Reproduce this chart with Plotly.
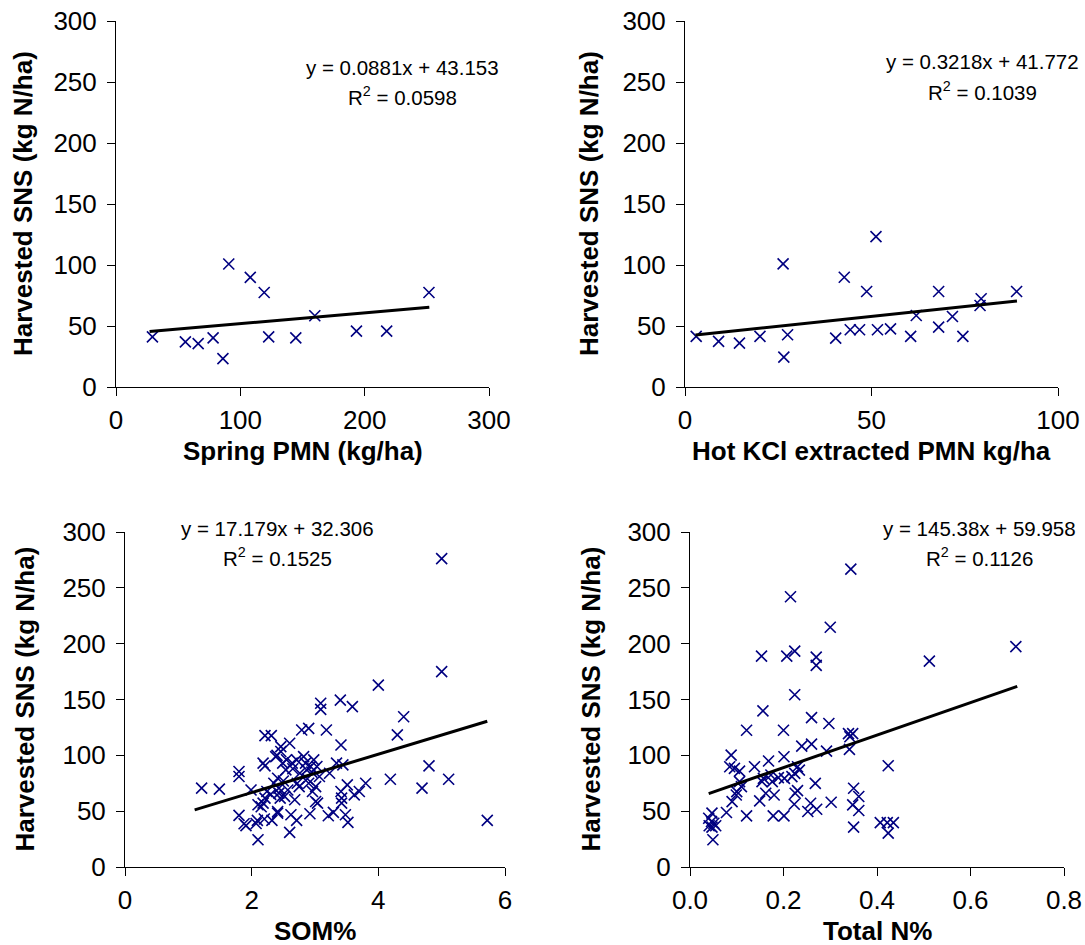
import plotly.graph_objects as go

# ---------------- data ----------------
pmn_spring_x = [29.3, 55.8, 66.1, 78.1, 86.0, 90.7, 108.0, 119.2, 122.8, 144.6, 159.9, 193.4, 217.7, 251.7]
pmn_spring_y = [41.1, 37.0, 35.6, 40.3, 23.3, 100.8, 89.9, 77.5, 41.1, 40.3, 58.4, 45.8, 45.8, 77.5]

hotkcl_x = [3.0, 9.0, 14.6, 20.1, 26.3, 26.5, 27.5, 40.4, 42.7, 44.3, 46.8, 48.7, 51.2, 51.6,
            55.1, 60.5, 62.0, 68.0, 68.0, 71.7, 74.5, 79.1, 79.4, 88.9]
hotkcl_y = [41.5, 37.4, 36.0, 41.5, 100.9, 24.5, 42.8, 40.1, 90.0, 46.9, 46.9, 78.3, 123.3, 46.9,
            47.7, 41.5, 58.6, 78.3, 49.1, 57.8, 41.5, 66.8, 72.3, 78.3]

som_x = [1.21, 1.49, 1.80, 1.80, 1.80, 1.88, 1.91, 1.99, 2.09, 2.10, 2.07, 2.10, 2.18, 2.21, 2.21,
         2.18, 2.21, 2.31, 2.24, 2.32, 2.35, 2.38, 2.41, 2.41, 2.41, 2.43, 2.43, 2.45, 2.46, 2.46,
         2.49, 2.52, 2.54, 2.57, 2.60, 2.60, 2.62, 2.64, 2.68, 2.71, 2.71, 2.72, 2.76, 2.79, 2.82,
         2.85, 2.87, 2.90, 2.90, 2.92, 2.93, 2.96, 2.98, 3.01, 3.01, 3.03, 3.04, 3.07, 3.09, 3.09,
         3.18, 3.21, 3.23, 3.29, 3.34, 3.40, 3.41, 3.41, 3.42, 3.42, 3.44, 3.48, 3.51, 3.52, 3.59,
         3.62, 3.70, 3.80, 4.00, 4.19, 4.30, 4.40, 4.69, 4.80, 5.00, 5.00, 5.11, 5.72,
         2.15, 2.30, 2.50, 2.65, 2.75, 2.88, 2.95, 2.40, 2.55, 2.20]
som_y = [70.6, 69.7, 85.5, 81.0, 46.2, 38.7, 37.0, 69.0, 41.7, 24.4, 39.0, 55.7, 57.2, 61.7, 90.6,
         93.0, 117.7, 117.7, 67.6, 41.7, 75.0, 98.9, 79.5, 48.3, 49.7, 66.1, 70.6, 61.7, 103.4, 107.8,
         93.0, 63.2, 87.0, 69.0, 110.8, 31.0, 46.8, 93.0, 60.2, 41.7, 95.9, 75.0, 84.0, 122.7, 98.9,
         93.0, 87.0, 75.0, 124.2, 47.7, 90.0, 67.6, 95.9, 72.0, 58.7, 90.0, 57.2, 81.0, 146.6, 141.2,
         122.7, 45.9, 84.0, 48.9, 93.0, 149.5, 109.3, 67.6, 57.2, 61.7, 91.5, 46.8, 73.6, 39.9, 143.6,
         64.6, 67.6, 75.0, 162.9, 78.6, 118.3, 134.6, 70.6, 90.6, 276.1, 174.9, 78.6, 41.7,
         54.0, 65.0, 77.0, 88.0, 72.0, 79.0, 85.0, 100.0, 96.0, 43.0]

totn_x = [0.344, 0.215, 0.300, 0.697, 0.224, 0.153, 0.207, 0.270, 0.270, 0.512, 0.224, 0.156, 0.260,
          0.121, 0.200, 0.297, 0.339, 0.348, 0.342, 0.239, 0.260, 0.292, 0.341, 0.088, 0.085, 0.095,
          0.106, 0.138, 0.168, 0.201, 0.230, 0.234, 0.224, 0.218, 0.202, 0.189, 0.173, 0.157, 0.154,
          0.176, 0.106, 0.110, 0.100, 0.099, 0.090, 0.078, 0.121, 0.149, 0.162, 0.180, 0.178, 0.201,
          0.223, 0.225, 0.230, 0.268, 0.252, 0.258, 0.271, 0.302, 0.350, 0.361, 0.361, 0.348, 0.350,
          0.407, 0.422, 0.435, 0.424, 0.424, 0.047, 0.046, 0.051, 0.041, 0.047, 0.055, 0.049, 0.040]
totn_y = [266.8, 242.0, 214.7, 197.4, 193.3, 188.8, 188.8, 187.9, 180.5, 184.4, 154.3, 139.8, 133.8,
          122.5, 122.5, 128.5, 119.5, 119.5, 116.6, 108.2, 110.0, 103.8, 105.3, 100.2, 89.8, 88.3,
          85.9, 89.8, 94.9, 98.7, 89.8, 86.8, 83.9, 80.9, 79.4, 80.0, 82.4, 79.4, 76.4,
          76.4, 76.4, 72.0, 67.5, 64.5, 58.6, 48.8, 45.8, 59.2, 66.0, 64.5, 45.8, 45.8,
          56.2, 66.0, 68.4, 74.9, 49.7, 57.1, 51.7, 58.0, 70.5, 63.1, 50.6, 55.6, 35.7,
          39.8, 39.8, 39.8, 30.3, 90.7, 48.2, 40.7, 39.2, 36.9, 35.7, 36.9, 24.4, 43.7]

# trendline coefficients (slope, intercept) and x-span, as printed / drawn in the chart
trend_coef = [(0.0881, 43.153), (0.3218, 41.772), (17.179, 32.306), (145.38, 59.958)]
trend_span = [(27, 252), (2.8, 89), (1.1, 5.72), (0.04, 0.70)]
r_squared = ["0.0598", "0.1039", "0.1525", "0.1126"]
eq_labels = ["y = 0.0881x + 43.153", "y = 0.3218x + 41.772", "y = 17.179x + 32.306", "y = 145.38x + 59.958"]

x_titles = ["Spring PMN (kg/ha)", "Hot KCl extracted PMN kg/ha", "SOM%", "Total N%"]
y_title = "Harvested SNS (kg N/ha)"
x_ranges = [(0, 300), (0, 100), (0, 6), (0, 0.8)]
x_ticks = [[0, 100, 200, 300], [0, 50, 100], [0, 2, 4, 6], [0, 0.2, 0.4, 0.6, 0.8]]
x_ticktext = [["0", "100", "200", "300"], ["0", "50", "100"], ["0", "2", "4", "6"],
              ["0.0", "0.2", "0.4", "0.6", "0.8"]]
y_ticks = [0, 50, 100, 150, 200, 250, 300]

series = [(pmn_spring_x, pmn_spring_y), (hotkcl_x, hotkcl_y), (som_x, som_y), (totn_x, totn_y)]

# ---------------- layout geometry ----------------
W, H = 1085, 945
# plot areas in pixels: (left, right, top, bottom)
boxes = [(116, 489, 21, 387), (685, 1058, 21, 387), (125, 505, 532, 867), (690, 1064, 532, 867)]
eq_pos = [(402, 67), (982, 62), (277, 528), (979, 528)]   # centre x, y of first line
eq_gap = 31
ytitle_x = [23, 589, 24, 590]
xtitle_dy = 64

FONT = "Liberation Sans, Arial, sans-serif"
TICK_SIZE, TITLE_SIZE, EQ_SIZE = 26, 26, 20.5
fig = go.Figure()
layout = dict(width=W, height=H, margin=dict(l=0, r=0, t=0, b=0, autoexpand=False),
              paper_bgcolor="white", plot_bgcolor="white", showlegend=False,
              font=dict(family=FONT, color="black"))
annotations = []

for i, ((xs, ys), (a, b), (x0, x1)) in enumerate(zip(series, trend_coef, trend_span)):
    sfx = "" if i == 0 else str(i + 1)
    xa, ya = "x" + sfx, "y" + sfx
    fig.add_trace(go.Scatter(x=xs, y=ys, mode="markers", xaxis=xa, yaxis=ya,
                             marker=dict(symbol="x-thin", size=11, line=dict(width=1.6, color="#000080"),
                                         color="#000080")))
    fig.add_trace(go.Scatter(x=[x0, x1], y=[a * x0 + b, a * x1 + b], mode="lines", xaxis=xa, yaxis=ya,
                             line=dict(color="black", width=3)))
    l, r, t, btm = boxes[i]
    axis_common = dict(showline=True, linecolor="black", linewidth=1, ticks="outside", ticklen=8,
                       tickcolor="black", tickwidth=1, showgrid=False, zeroline=False, automargin=False,
                       tickfont=dict(family=FONT, size=TICK_SIZE, color="black"))
    layout["xaxis" + sfx] = dict(domain=[l / W, r / W], anchor=ya, range=list(x_ranges[i]),
                                 tickvals=x_ticks[i], ticktext=x_ticktext[i], ticklabelstandoff=2,
                                 **axis_common)
    layout["yaxis" + sfx] = dict(domain=[1 - btm / H, 1 - t / H], anchor=xa, range=[0, 300],
                                 tickvals=y_ticks, ticklabelstandoff=5, **axis_common)
    annotations.append(dict(text="<b>" + y_title + "</b>", textangle=-90, xref="paper", yref="paper",
                            x=ytitle_x[i] / W, y=1 - (t + btm) / 2 / H, showarrow=False,
                            font=dict(family=FONT, size=TITLE_SIZE, color="black"),
                            xanchor="center", yanchor="middle"))
    annotations.append(dict(text="<b>" + x_titles[i] + "</b>", xref="paper", yref="paper",
                            x=(l + r) / 2 / W, y=1 - (btm + xtitle_dy) / H, showarrow=False,
                            font=dict(family=FONT, size=TITLE_SIZE, color="black"),
                            xanchor="center", yanchor="middle"))
    ex, ey = eq_pos[i]
    annotations.append(dict(text=eq_labels[i], xref="paper", yref="paper", x=ex / W, y=1 - ey / H,
                            showarrow=False, xanchor="center", yanchor="middle",
                            font=dict(family=FONT, size=EQ_SIZE, color="black")))
    annotations.append(dict(text="R<sup>2</sup> = " + r_squared[i], xref="paper", yref="paper",
                            x=ex / W, y=1 - (ey + eq_gap - 2) / H,
                            showarrow=False, xanchor="center", yanchor="middle",
                            font=dict(family=FONT, size=EQ_SIZE, color="black")))

layout["annotations"] = annotations
fig.update_layout(**layout)
fig.write_html("out.html", config={"displayModeBar": False},
               post_script="document.body.style.margin='0';document.body.style.overflow='hidden';")
